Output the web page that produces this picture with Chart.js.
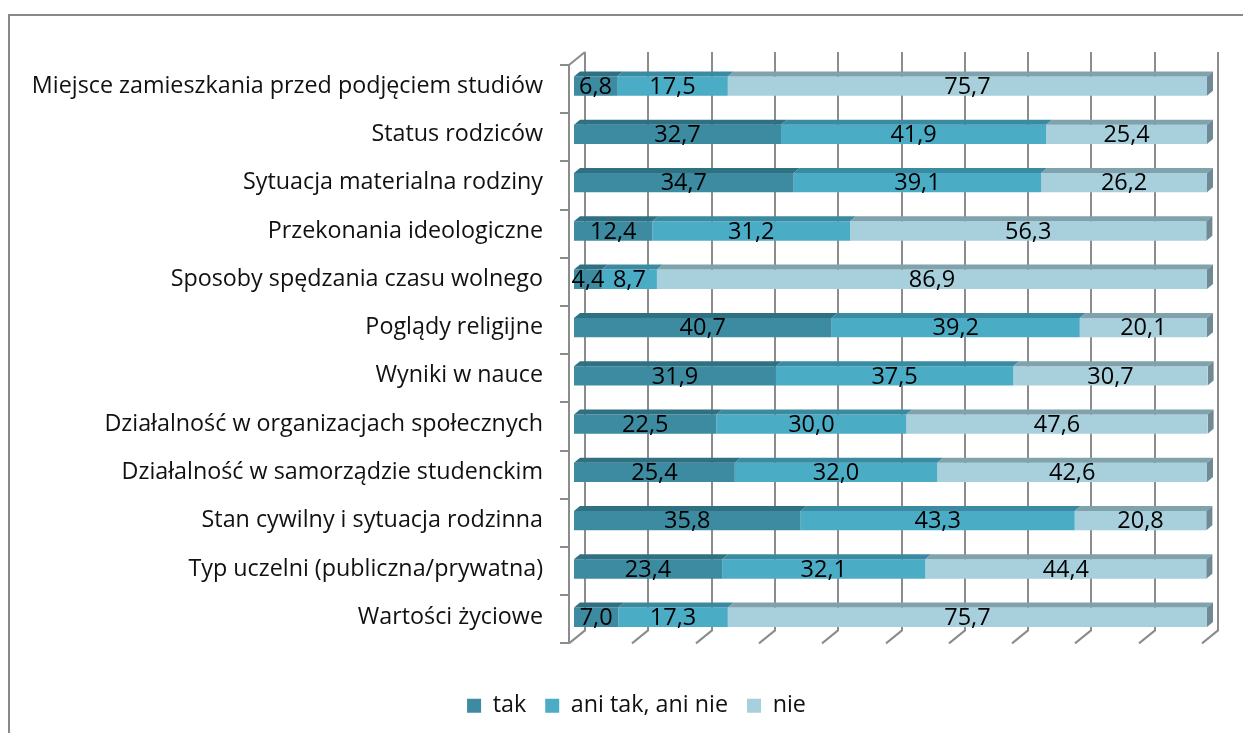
<!DOCTYPE html>
<html>
<head>
<meta charset="utf-8">
<script src="https://cdn.jsdelivr.net/npm/chart.js@4.4.1/dist/chart.umd.min.js"></script>
<style>
  body { margin: 0; background: #fff; }
</style>
</head>
<body>
<canvas id="chart" width="1243" height="733"></canvas>
<script>
const categories = [
    "Miejsce zamieszkania przed podjęciem studiów",
    "Status rodziców",
    "Sytuacja materialna rodziny",
    "Przekonania ideologiczne",
    "Sposoby spędzania czasu wolnego",
    "Poglądy religijne",
    "Wyniki w nauce",
    "Działalność w organizacjach społecznych",
    "Działalność w samorządzie studenckim",
    "Stan cywilny i sytuacja rodzinna",
    "Typ uczelni (publiczna/prywatna)",
    "Wartości życiowe"
];
const tak = [6.8, 32.7, 34.7, 12.4, 4.4, 40.7, 31.9, 22.5, 25.4, 35.8, 23.4, 7.0];
const aniTakAniNie = [17.5, 41.9, 39.1, 31.2, 8.7, 39.2, 37.5, 30.0, 32.0, 43.3, 32.1, 17.3];
const nie = [75.7, 25.4, 26.2, 56.3, 86.9, 20.1, 30.7, 47.6, 42.6, 20.8, 44.4, 75.7];
const seriesNames = ["tak", "ani tak, ani nie", "nie"];
const xTicks = [0, 10, 20, 30, 40, 50, 60, 70, 80, 90, 100];

const FONT = "'Open Sans'";
const frontColors = ["#3d8ba1", "#4bacc6", "#a7cfdc"];
const topColors = ["#2f7083", "#3a8ba2", "#7fa2ad"];
const sideColor = "#6f8a95";
const gridColor = "#8c8c8c";

// 3d depth of the wall / bars
const DX = 16, DY = 13;
const BAR_DX = 6, BAR_DY = 5;
const LEGEND_SHIFT = 33;

const wallPlugin = {
    id: "wall",
    afterLayout(chart) {
        // legend is centred on the whole frame, not on the plot
        chart.legend.left += LEGEND_SHIFT;
        chart.legend.right += LEGEND_SHIFT;
    },
    beforeDraw(chart) {
        const ctx = chart.ctx;
        ctx.save();
        ctx.strokeStyle = "#888";
        ctx.lineWidth = 2;
        ctx.strokeRect(9, 15, 1400, 900);
        ctx.restore();
    },
    beforeDatasetsDraw(chart) {
        const ctx = chart.ctx;
        const xs = chart.scales.x;
        const area = chart.chartArea;
        const frontTop = area.top + 3, frontBottom = area.bottom + 2;
        ctx.save();
        ctx.strokeStyle = gridColor;
        ctx.lineWidth = 2;
        ctx.beginPath();
        xTicks.forEach(v => {
            const fx = Math.round(xs.getPixelForValue(v)) - 5;
            ctx.moveTo(fx + DX, frontTop - DY);
            ctx.lineTo(fx + DX, frontBottom - DY);
            ctx.lineTo(fx, frontBottom);
        });
        // left wall
        const lx = Math.round(xs.getPixelForValue(0)) - 5;
        ctx.moveTo(lx + DX, frontTop - DY);
        ctx.lineTo(lx, frontTop);
        ctx.lineTo(lx, frontBottom);
        const step = (frontBottom - frontTop) / categories.length;
        for (let i = 0; i <= categories.length; i++) {
            const ty = Math.round(frontTop + i * step);
            ctx.moveTo(lx - 9, ty);
            ctx.lineTo(lx, ty);
        }
        ctx.stroke();
        ctx.restore();
    },
    afterDatasetsDraw(chart) {
        const ctx = chart.ctx;
        ctx.save();
        const n = chart.data.datasets.length;
        for (let d = 0; d < n; d++) {
            const meta = chart.getDatasetMeta(d);
            meta.data.forEach(bar => {
                const left = Math.min(bar.base, bar.x), right = Math.max(bar.base, bar.x);
                const top = bar.y - bar.height / 2, bottom = bar.y + bar.height / 2;
                ctx.fillStyle = topColors[d];
                ctx.beginPath();
                ctx.moveTo(left, top);
                ctx.lineTo(left + BAR_DX, top - BAR_DY);
                ctx.lineTo(right + BAR_DX, top - BAR_DY);
                ctx.lineTo(right, top);
                ctx.closePath();
                ctx.fill();
                if (d === n - 1) {
                    ctx.fillStyle = sideColor;
                    ctx.beginPath();
                    ctx.moveTo(right, top);
                    ctx.lineTo(right + BAR_DX, top - BAR_DY);
                    ctx.lineTo(right + BAR_DX, bottom - BAR_DY);
                    ctx.lineTo(right, bottom);
                    ctx.closePath();
                    ctx.fill();
                }
            });
        }
        // value labels
        ctx.fillStyle = "#000";
        ctx.font = "23.5px " + FONT;
        ctx.textAlign = "center";
        ctx.textBaseline = "middle";
        for (let d = 0; d < n; d++) {
            const meta = chart.getDatasetMeta(d);
            const values = chart.data.datasets[d].data;
            meta.data.forEach((bar, i) => {
                const cx = (bar.base + bar.x) / 2;
                ctx.fillText(values[i].toFixed(1).replace(".", ","), cx, bar.y + 1);
            });
        }
        ctx.restore();
    }
};

const ctx = document.getElementById("chart");
const chart = new Chart(ctx, {
    type: "bar",
    data: {
        labels: categories,
        datasets: [tak, aniTakAniNie, nie].map((data, i) => ({
            label: seriesNames[i],
            data: data,
            backgroundColor: frontColors[i],
            borderWidth: 0,
            categoryPercentage: 1,
            barPercentage: 0.4
        }))
    },
    options: {
        indexAxis: "y",
        responsive: false,
        animation: false,
        layout: { padding: { top: 62, right: 36, left: 0, bottom: 5.5 } },
        scales: {
            x: {
                stacked: true,
                min: 0,
                max: 100,
                ticks: { display: false, stepSize: 10 },
                grid: { display: false },
                border: { display: false },
                afterFit: s => { s.height = 33.8; }
            },
            y: {
                stacked: true,
                grid: { display: false },
                border: { display: false },
                ticks: { color: "#111", padding: 23, font: { family: FONT, size: 23.3 } },
                afterFit: s => { s.width = 574; }
            }
        },
        plugins: {
            tooltip: { enabled: false },
            legend: {
                position: "bottom",
                labels: {
                    boxWidth: 14,
                    boxHeight: 14,
                    padding: 19,
                    color: "#111",
                    font: { family: FONT, size: 23.3 }
                }
            }
        }
    },
    plugins: [wallPlugin]
});
</script>
</body>
</html>
